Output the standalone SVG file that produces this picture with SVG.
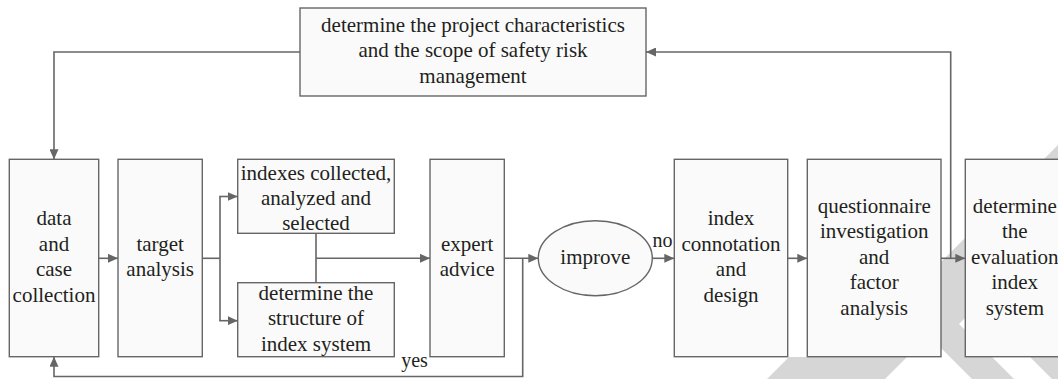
<svg xmlns="http://www.w3.org/2000/svg" width="1058" height="379" viewBox="0 0 1058 379">
<style>
.box{fill:#fafafa;stroke:#666;stroke-width:1.4}
.ln{fill:none;stroke:#666;stroke-width:1.6}
.t{fill:#231f20;text-anchor:middle}
.wm{fill:#d6d6d6}
</style>
<defs>
<marker id="ah" markerUnits="userSpaceOnUse" markerWidth="10" markerHeight="9" refX="10" refY="4.5" orient="auto">
<path d="M0,0 L10,4.5 L0,9 z" fill="#666"/>
</marker>
</defs>
<rect width="1058" height="379" fill="#ffffff"/>
<g id="watermark">
<polygon class="wm" points="898,305 1103,100 1183,100 959,324 1040,405 998,405"/>
<polygon class="wm" points="1030,357 1058,357 1058,379 1052,379"/>
<polygon class="wm" points="767,379 789,357 907,357 885,379"/>
</g>
<g id="connectors">
<polyline class="ln" marker-end="url(#ah)" points="300,52 54,52 54,159.3"/>
<line class="ln" marker-end="url(#ah)" x1="98.7" y1="258.3" x2="118" y2="258.3"/>
<line class="ln" x1="202.3" y1="258.3" x2="220" y2="258.3"/>
<line class="ln" x1="220" y1="196.5" x2="220" y2="320.7"/>
<line class="ln" marker-end="url(#ah)" x1="219.2" y1="196.5" x2="237.7" y2="196.5"/>
<line class="ln" marker-end="url(#ah)" x1="219.2" y1="320.7" x2="237.7" y2="320.7"/>
<line class="ln" x1="316" y1="233.3" x2="316" y2="282.7"/>
<line class="ln" marker-end="url(#ah)" x1="316" y1="258.3" x2="430" y2="258.3"/>
<line class="ln" marker-end="url(#ah)" x1="504.3" y1="258.3" x2="538.3" y2="258.3"/>
<polyline class="ln" marker-end="url(#ah)" points="522.7,258.3 522.7,376.5 54,376.5 54,356.7"/>
<line class="ln" marker-end="url(#ah)" x1="652.3" y1="258.3" x2="674.3" y2="258.3"/>
<line class="ln" marker-end="url(#ah)" x1="787.7" y1="258.3" x2="807.3" y2="258.3"/>
<line class="ln" marker-end="url(#ah)" x1="941" y1="258.3" x2="965.3" y2="258.3"/>
<polyline class="ln" marker-end="url(#ah)" points="950.7,258.3 950.7,52 646,52"/>
<text class="t" style="font-family:'Liberation Serif',serif;font-size:20px" x="414.5" y="367">yes</text>
<text class="t" style="font-family:'Liberation Serif',serif;font-size:20px" x="662.5" y="246.5">no</text>
</g>
<g id="n-scope">
<rect class="box" x="300" y="8" width="346" height="88"/>
<text class="t" style="font-family:'Liberation Serif',serif;font-size:21px" x="473" y="31.5">determine the project characteristics</text>
<text class="t" style="font-family:'Liberation Serif',serif;font-size:21px" x="473" y="57">and the scope of safety risk</text>
<text class="t" style="font-family:'Liberation Serif',serif;font-size:21px" x="473" y="82.5">management</text>
</g>
<g id="n-data">
<rect class="box" x="9.3" y="159.3" width="89.4" height="197.4"/>
<text class="t" style="font-family:'Liberation Serif',serif;font-size:21px" x="54" y="225.3">data</text>
<text class="t" style="font-family:'Liberation Serif',serif;font-size:21px" x="54" y="250.8">and</text>
<text class="t" style="font-family:'Liberation Serif',serif;font-size:21px" x="54" y="276.3">case</text>
<text class="t" style="font-family:'Liberation Serif',serif;font-size:21px" x="54" y="301.8">collection</text>
</g>
<g id="n-target">
<rect class="box" x="118" y="159.3" width="84.3" height="197.4"/>
<text class="t" style="font-family:'Liberation Serif',serif;font-size:21px" x="160.2" y="250.8">target</text>
<text class="t" style="font-family:'Liberation Serif',serif;font-size:21px" x="160.2" y="276.3">analysis</text>
</g>
<g id="n-indexes">
<rect class="box" x="237.7" y="159.3" width="156.6" height="74"/>
<text class="t" style="font-family:'Liberation Serif',serif;font-size:21px" x="316" y="179.5">indexes collected,</text>
<text class="t" style="font-family:'Liberation Serif',serif;font-size:21px" x="316" y="204.5">analyzed and</text>
<text class="t" style="font-family:'Liberation Serif',serif;font-size:21px" x="316" y="229.5">selected</text>
</g>
<g id="n-structure">
<rect class="box" x="237.7" y="282.7" width="156.6" height="74"/>
<text class="t" style="font-family:'Liberation Serif',serif;font-size:21px" x="316" y="299.5">determine the</text>
<text class="t" style="font-family:'Liberation Serif',serif;font-size:21px" x="316" y="325">structure of</text>
<text class="t" style="font-family:'Liberation Serif',serif;font-size:21px" x="316" y="350.5">index system</text>
</g>
<g id="n-expert">
<rect class="box" x="430" y="159.3" width="74.3" height="197.4"/>
<text class="t" style="font-family:'Liberation Serif',serif;font-size:21px" x="467.2" y="250.8">expert</text>
<text class="t" style="font-family:'Liberation Serif',serif;font-size:21px" x="467.2" y="276.3">advice</text>
</g>
<g id="n-improve">
<ellipse class="box" cx="595.3" cy="258.2" rx="57" ry="37.5"/>
<text class="t" style="font-family:'Liberation Serif',serif;font-size:21px" x="595.3" y="263.5">improve</text>
</g>
<g id="n-connotation">
<rect class="box" x="674.3" y="159.3" width="113.4" height="197.4"/>
<text class="t" style="font-family:'Liberation Serif',serif;font-size:21px" x="731" y="225.3">index</text>
<text class="t" style="font-family:'Liberation Serif',serif;font-size:21px" x="731" y="250.8">connotation</text>
<text class="t" style="font-family:'Liberation Serif',serif;font-size:21px" x="731" y="276.3">and</text>
<text class="t" style="font-family:'Liberation Serif',serif;font-size:21px" x="731" y="301.8">design</text>
</g>
<g id="n-questionnaire">
<rect class="box" x="807.3" y="159.3" width="133.7" height="197.4"/>
<text class="t" style="font-family:'Liberation Serif',serif;font-size:21px" x="874.2" y="212.5">questionnaire</text>
<text class="t" style="font-family:'Liberation Serif',serif;font-size:21px" x="874.2" y="238">investigation</text>
<text class="t" style="font-family:'Liberation Serif',serif;font-size:21px" x="874.2" y="263.5">and</text>
<text class="t" style="font-family:'Liberation Serif',serif;font-size:21px" x="874.2" y="289">factor</text>
<text class="t" style="font-family:'Liberation Serif',serif;font-size:21px" x="874.2" y="314.5">analysis</text>
</g>
<g id="n-evaluation">
<rect class="box" x="965.3" y="159.3" width="100" height="197.4"/>
<text class="t" style="font-family:'Liberation Serif',serif;font-size:21px" x="1014.8" y="212.5">determine</text>
<text class="t" style="font-family:'Liberation Serif',serif;font-size:21px" x="1014.8" y="238">the</text>
<text class="t" style="font-family:'Liberation Serif',serif;font-size:21px" x="1014.8" y="263.5">evaluation</text>
<text class="t" style="font-family:'Liberation Serif',serif;font-size:21px" x="1014.8" y="289">index</text>
<text class="t" style="font-family:'Liberation Serif',serif;font-size:21px" x="1014.8" y="314.5">system</text>
</g>
</svg>
